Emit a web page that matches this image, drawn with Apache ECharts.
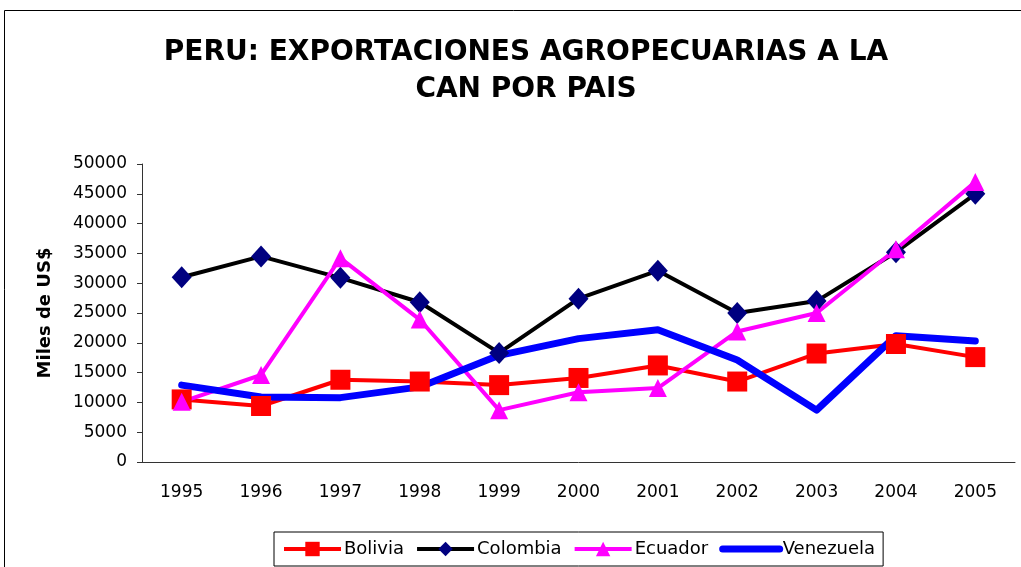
<!DOCTYPE html>
<html>
<head>
<meta charset="utf-8">
<script src="https://cdn.jsdelivr.net/npm/echarts@6/dist/echarts.min.js"></script>
<style>
  html, body { margin: 0; padding: 0; background: #fff; }
  #main { width: 1021px; height: 567px; }
</style>
</head>
<body>
<div id="main"></div>
<script>
// years on the x axis
var years = ["1995", "1996", "1997", "1998", "1999", "2000", "2001", "2002", "2003", "2004", "2005"];
// exports in miles de US$
var bolivia = [10500, 9400, 13800, 13500, 12900, 14100, 16200, 13500, 18200, 19800, 17600];
var colombia = [31000, 34500, 30900, 26800, 18300, 27400, 32100, 25000, 27000, 35200, 45000];
var ecuador = [10100, 14600, 34200, 23900, 8700, 11700, 12400, 21900, 25000, 35700, 47000];
var venezuela = [12900, 10900, 10800, 12600, 17900, 20700, 22200, 17100, 8700, 21200, 20300];

var font = "DejaVu Sans";
var myChart = echarts.init(document.getElementById("main"));
myChart.setOption({
  animation: false,
  title: {
    text: "PERU: EXPORTACIONES AGROPECUARIAS A LA\nCAN POR PAIS",
    left: 521,
    top: 29,
    textAlign: "center",
    textStyle: {
      fontFamily: font,
      fontWeight: "bold",
      fontSize: 28,
      lineHeight: 37,
      color: "#000"
    }
  },
  graphic: [
    {
      type: "rect",
      shape: { x: 4.5, y: 10.5, width: 1100, height: 700 },
      style: { fill: "none", stroke: "#000", lineWidth: 1 },
      silent: true
    }
  ],
  legend: {
    left: 274,
    top: 532,
    padding: [8, 8],
    itemGap: 11,
    itemWidth: 57,
    itemHeight: 18,
    borderColor: "#000",
    borderWidth: 1,
    selectedMode: false,
    lineStyle: { width: 4 },
    textStyle: { fontFamily: font, fontSize: 18, color: "#000", padding: [0, 0, 0, -2] },
    data: [
      "Bolivia",
      "Colombia",
      "Ecuador",
      { name: "Venezuela", itemStyle: { opacity: 0 }, lineStyle: { width: 7, cap: "round" } }
    ]
  },
  grid: {
    left: 142,
    right: 6,
    top: 164,
    bottom: 105
  },
  xAxis: {
    type: "category",
    data: years,
    axisLine: { lineStyle: { color: "#333", width: 1 } },
    axisTick: { length: 5, lineStyle: { color: "#333" } },
    axisLabel: { fontFamily: font, fontSize: 17, color: "#000", margin: 22 }
  },
  yAxis: {
    type: "value",
    min: 0,
    max: 50000,
    interval: 5000,
    name: "Miles de US$",
    nameLocation: "middle",
    nameGap: 88,
    nameTextStyle: { fontFamily: font, fontWeight: "bold", fontSize: 18, color: "#000" },
    splitLine: { show: false },
    axisLine: { show: true, lineStyle: { color: "#333", width: 1 } },
    axisTick: { show: true, length: 5, lineStyle: { color: "#333" } },
    axisLabel: {
      fontFamily: font,
      fontSize: 17,
      color: "#000",
      margin: 15,
      formatter: function (v) { return String(v); }
    }
  },
  series: [
    {
      name: "Bolivia",
      type: "line",
      data: bolivia,
      symbol: "rect",
      symbolSize: 20,
      itemStyle: { color: "#ff0000" },
      lineStyle: { color: "#ff0000", width: 4 }
    },
    {
      name: "Colombia",
      type: "line",
      data: colombia,
      symbol: "diamond",
      symbolSize: [20, 22],
      itemStyle: { color: "#000080" },
      lineStyle: { color: "#000000", width: 4 }
    },
    {
      name: "Ecuador",
      type: "line",
      data: ecuador,
      symbol: "triangle",
      symbolSize: 18,
      itemStyle: { color: "#ff00ff" },
      lineStyle: { color: "#ff00ff", width: 4 }
    },
    {
      name: "Venezuela",
      type: "line",
      data: venezuela,
      symbol: "none",
      itemStyle: { color: "#0000ff" },
      lineStyle: { color: "#0000ff", width: 7, cap: "round", join: "round" }
    }
  ]
});
</script>
</body>
</html>
